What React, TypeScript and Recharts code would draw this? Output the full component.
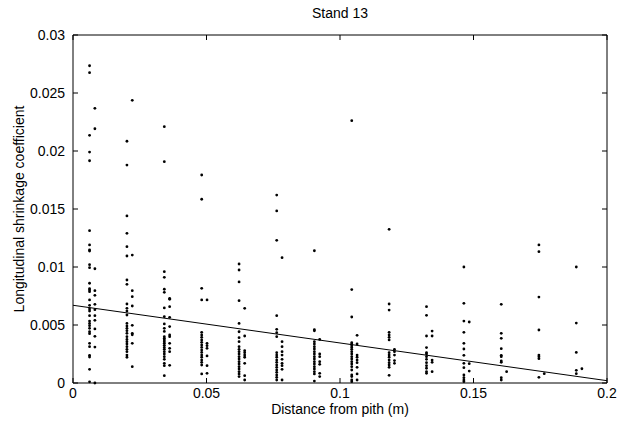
import { ScatterChart, Scatter, XAxis, YAxis, ReferenceLine } from "recharts";

// Radial sampling positions (m) for the two sample columns at each station
const stationXA = [0.0062, 0.0202, 0.0342, 0.0482, 0.0622, 0.0763, 0.0904, 0.1044, 0.1184, 0.1324, 0.1464, 0.1604, 0.1745, 0.1885];
const stationXB = [0.0082, 0.0222, 0.0362, 0.0502, 0.0643, 0.0783, 0.0924, 0.1064, 0.1204, 0.1345, 0.1484, 0.1624, 0.1765, 0.1906];

// Longitudinal shrinkage coefficients, first column at each station
const shrinkA: number[][] = [
  [0.02735, 0.02675, 0.02135, 0.01991, 0.01916, 0.01313, 0.0119, 0.01147, 0.01138, 0.0102, 0.00994, 0.0086, 0.00813, 0.00802, 0.00787, 0.00716, 0.0067, 0.00638, 0.0062, 0.0058, 0.00534, 0.00514, 0.00494, 0.00471, 0.00442, 0.00425, 0.00342, 0.00313, 0.00239, 0.00224, 0.00118, 0.0001],
  [0.02084, 0.01879, 0.0144, 0.0129, 0.01175, 0.01095, 0.00888, 0.00851, 0.00681, 0.00644, 0.0062, 0.00586, 0.00514, 0.00491, 0.00471, 0.00451, 0.00428, 0.00399, 0.00376, 0.00356, 0.00336, 0.00313, 0.0029, 0.0027, 0.00241, 0.00222],
  [0.0221, 0.01908, 0.0096, 0.00911, 0.00808, 0.00782, 0.00647, 0.00572, 0.00509, 0.00471, 0.00445, 0.00399, 0.00385, 0.00371, 0.00356, 0.00342, 0.00325, 0.00307, 0.0029, 0.0027, 0.0025, 0.00227, 0.00204, 0.0017, 0.00149, 0.00063],
  [0.01793, 0.01584, 0.00816, 0.00716, 0.00437, 0.00414, 0.00394, 0.00371, 0.00351, 0.00328, 0.00307, 0.00284, 0.00264, 0.00241, 0.00222, 0.00198, 0.00178, 0.00155, 0.00078],
  [0.01026, 0.00974, 0.00871, 0.0071, 0.00514, 0.00442, 0.00391, 0.00356, 0.00313, 0.0029, 0.0027, 0.0025, 0.00227, 0.00207, 0.00184, 0.00164, 0.00141, 0.00121, 0.00098, 0.00078, 0.00055],
  [0.0162, 0.01483, 0.0123, 0.0058, 0.00463, 0.00434, 0.00399, 0.00261, 0.00241, 0.00222, 0.00198, 0.00178, 0.00155, 0.00135, 0.00112, 0.00092, 0.00069, 0.00049, 0.00026],
  [0.0114, 0.0046, 0.0045, 0.00356, 0.00336, 0.00313, 0.00293, 0.0027, 0.0025, 0.00227, 0.00207, 0.00184, 0.00164, 0.00141, 0.00121, 0.00098, 0.00078, 0.00017],
  [0.02261, 0.00805, 0.00569, 0.00348, 0.00336, 0.00322, 0.00307, 0.0029, 0.0027, 0.0025, 0.00227, 0.00207, 0.00184, 0.00164, 0.00141, 0.00112, 0.00069, 0.00055, 0.00026, 0.00011],
  [0.01325, 0.00681, 0.00629, 0.00437, 0.00414, 0.00394, 0.00371, 0.00261, 0.00241, 0.00222, 0.00198, 0.00175, 0.00155, 0.00135, 0.00066],
  [0.00658, 0.00583, 0.00405, 0.00305, 0.00261, 0.0025, 0.00227, 0.00204, 0.00175, 0.00149, 0.00127, 0.00098, 0.00083],
  [0.01, 0.00687, 0.00534, 0.00437, 0.00342, 0.00293, 0.00239, 0.0017, 0.00132, 0.00069, 0.00046, 0.00026, 0.00011],
  [0.00678, 0.00428, 0.00385, 0.00296, 0.00239, 0.00227, 0.0019, 0.00178, 0.00046, 0.00026],
  [0.0119, 0.01132, 0.00741, 0.00457, 0.00241, 0.00227, 0.0021, 0.00049],
  [0.01, 0.00517, 0.00264, 0.00109, 0.0008],
];

// Second column at each station
const shrinkB: number[][] = [
  [0.02368, 0.02192, 0.00985, 0.00796, 0.00756, 0.00678, 0.00632, 0.0058, 0.0054, 0.00466, 0.00402, 0.0031, 0.0],
  [0.02437, 0.01103, 0.00796, 0.00744, 0.00664, 0.00497, 0.00428, 0.00416, 0.00342, 0.00141],
  [0.0073, 0.00721, 0.00658, 0.00566, 0.00486, 0.00414, 0.00399, 0.00342, 0.00299, 0.0027, 0.00152],
  [0.00716, 0.00342, 0.00322, 0.00299, 0.00233, 0.00149, 0.00083],
  [0.00644, 0.00405, 0.00279, 0.00261, 0.00241, 0.00222, 0.0017, 0.00063, 0.00026],
  [0.0108, 0.00356, 0.00313, 0.0027, 0.00241, 0.00204, 0.0017, 0.00149, 0.00118, 0.00026],
  [0.00376, 0.0025, 0.00227, 0.00184, 0.00161, 0.00083, 0.00055],
  [0.00411, 0.00336, 0.00241, 0.00222, 0.00198, 0.00175, 0.00135, 0.00078, 0.00026],
  [0.0029, 0.0027, 0.00241, 0.00193, 0.0017],
  [0.00448, 0.00405, 0.00198, 0.00178, 0.00098],
  [0.00526, 0.00167, 0.00103],
  [0.00098],
  [0.0008],
  [0.00123],
];

// Least-squares fit evaluated at the ends of the x range
const fitX = [0, 0.2];
const fitY = [0.0067, 0.0002];

const xTicks = [0, 0.05, 0.1, 0.15, 0.2];
const yTicks = [0, 0.005, 0.01, 0.015, 0.02, 0.025, 0.03];

const points = [
  ...stationXA.flatMap((x, i) => shrinkA[i].map((y) => ({ x, y }))),
  ...stationXB.flatMap((x, i) => shrinkB[i].map((y) => ({ x, y }))),
];

const W = 620;
const H = 427;
const PLOT_LEFT = 73;
const PLOT_RIGHT = 607;
const PLOT_TOP = 35;
const PLOT_BOTTOM = 383;
const TICK_LEN = 5;
const FONT = "'Liberation Sans', Arial, sans-serif";

function XTick({ x, payload }: any) {
  return (
    <g>
      <line x1={x} x2={x} y1={PLOT_BOTTOM} y2={PLOT_BOTTOM - TICK_LEN} stroke="#000" />
      <line x1={x} x2={x} y1={PLOT_TOP} y2={PLOT_TOP + TICK_LEN} stroke="#000" />
      <text x={x} y={PLOT_BOTTOM + 15} textAnchor="middle" fontSize={14} fontFamily={FONT} fill="#000">
        {String(payload.value)}
      </text>
    </g>
  );
}

function YTick({ y, payload }: any) {
  return (
    <g>
      <line x1={PLOT_LEFT} x2={PLOT_LEFT + TICK_LEN} y1={y} y2={y} stroke="#000" />
      <line x1={PLOT_RIGHT} x2={PLOT_RIGHT - TICK_LEN} y1={y} y2={y} stroke="#000" />
      <text x={PLOT_LEFT - 8} y={y} dy="0.35em" textAnchor="end" fontSize={14} fontFamily={FONT} fill="#000">
        {String(payload.value)}
      </text>
    </g>
  );
}

function Dot(props: any) {
  return <circle cx={props.cx} cy={props.cy} r={1.4} fill="#000" />;
}

export default function App() {
  return (
    <div style={{ position: "absolute", left: 0, top: 0, width: W, height: H, background: "#fff", fontFamily: FONT }}>
      <div style={{ position: "absolute", left: PLOT_LEFT, width: PLOT_RIGHT - PLOT_LEFT, top: 5, textAlign: "center", fontSize: 14, color: "#000" }}>
        Stand 13
      </div>
      <ScatterChart
        width={W}
        height={H}
        margin={{ top: PLOT_TOP, right: W - PLOT_RIGHT, bottom: H - PLOT_BOTTOM - 30, left: PLOT_LEFT - 60 }}
      >
        <XAxis
          type="number"
          dataKey="x"
          domain={[0, 0.2]}
          ticks={xTicks}
          height={30}
          tickLine={false}
          axisLine={{ stroke: "#000" }}
          tick={<XTick />}
          interval={0}
        />
        <YAxis
          type="number"
          dataKey="y"
          domain={[0, 0.03]}
          ticks={yTicks}
          width={60}
          tickLine={false}
          axisLine={{ stroke: "#000" }}
          tick={<YTick />}
          interval={0}
        />
        <ReferenceLine x={0.2} stroke="#000" />
        <ReferenceLine y={0.03} stroke="#000" />
        <Scatter data={points} shape={<Dot />} isAnimationActive={false} />
        <ReferenceLine
          segment={[
            { x: fitX[0], y: fitY[0] },
            { x: fitX[1], y: fitY[1] },
          ]}
          stroke="#000"
          strokeWidth={1}
        />
      </ScatterChart>
      <div style={{ position: "absolute", left: PLOT_LEFT, width: PLOT_RIGHT - PLOT_LEFT, top: 402, lineHeight: "15px", textAlign: "center", fontSize: 14, color: "#000" }}>
        Distance from pith (m)
      </div>
      <div
        style={{
          position: "absolute",
          left: 19,
          top: (PLOT_TOP + PLOT_BOTTOM) / 2,
          transform: "translate(-50%, -50%) rotate(-90deg)",
          whiteSpace: "nowrap",
          fontSize: 14,
          color: "#000",
        }}
      >
        Longitudinal shrinkage coefficient
      </div>
    </div>
  );
}
